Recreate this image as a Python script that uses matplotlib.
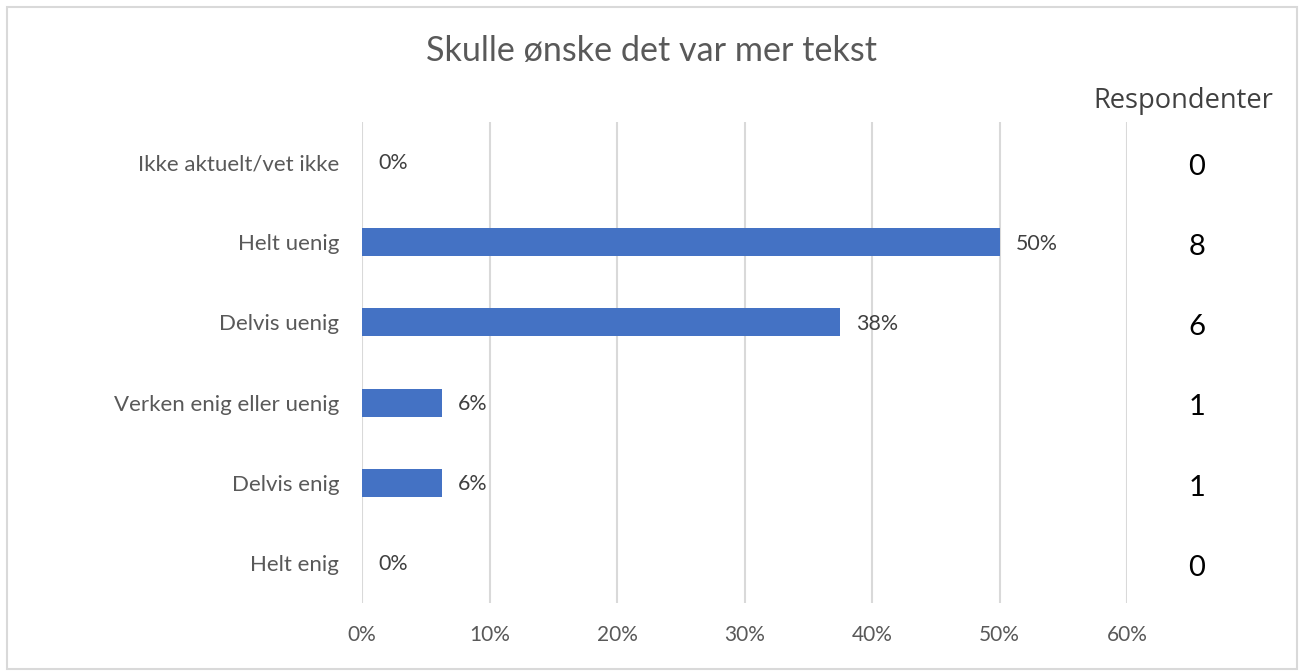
import matplotlib
matplotlib.use('Agg')
import matplotlib.pyplot as plt
from matplotlib.patches import Rectangle
import matplotlib.transforms as mtransforms

plt.rcParams['font.family'] = ['Lato', 'DejaVu Sans']

categories = ['Ikke aktuelt/vet ikke', 'Helt uenig', 'Delvis uenig',
              'Verken enig eller uenig', 'Delvis enig', 'Helt enig']
respondents = [0, 8, 6, 1, 1, 0]
total = sum(respondents)
shares = [r / total * 100 for r in respondents]
pct_labels = ['0%', '50%', '38%', '6%', '6%', '0%']
x_ticks = [0, 10, 20, 30, 40, 50, 60]

BAR = '#4472C4'
GRID = '#D9D9D9'
TXT = '#595959'

W, H = 1306, 671
fig = plt.figure(figsize=(W / 100, H / 100), dpi=100)
ax = fig.add_axes([362 / W, 1 - 603 / H, (1127 - 362) / W, (603 - 122) / H])

ypos = list(range(len(categories)))
ax.barh(ypos, shares, height=0.35, color=BAR, zorder=3)
ax.set_ylim(len(categories) - 0.5, -0.5)
ax.set_xlim(0, 60)
ax.set_yticks(ypos)
ax.set_yticklabels(categories, fontsize=16, color=TXT)
ax.set_xticks(x_ticks)
ax.set_xticklabels([f'{t}%' for t in x_ticks], fontsize=15, color=TXT)
ax.tick_params(length=0)
ax.tick_params(axis='y', pad=16.5)
ax.tick_params(axis='x', pad=16)
ax.grid(axis='x', color=GRID, linewidth=1.5, zorder=0)
for s in ax.spines.values():
    s.set_visible(False)

for y, v, lab in zip(ypos, shares, pct_labels):
    ax.annotate(lab, (v, y), xytext=(11.5, -1), textcoords='offset points',
                ha='left', va='center', fontsize=15.4, color='#404040')

# respondent counts in a column right of the plot area
trans = mtransforms.blended_transform_factory(ax.transAxes, ax.transData)
for y, r in zip(ypos, respondents):
    ax.annotate(str(r), (1.0915, y), xycoords=trans, xytext=(0, -3.5),
                textcoords='offset points', ha='center', va='center',
                fontsize=21, color='black')
ax.text(1.0732, 1.043, 'Respondenter', transform=ax.transAxes,
        ha='center', va='center', fontsize=19.6, color='#404040',
        family=['Open Sans', 'DejaVu Sans'])

fig.text(652 / W, 1 - 51 / H, 'Skulle ønske det var mer tekst',
         ha='center', va='center', fontsize=24.6, color=TXT)

fig.patches.append(Rectangle((7 / W, 1 - 669 / H), (1297 - 7) / W, (669 - 7) / H,
                             transform=fig.transFigure, fill=False,
                             edgecolor=GRID, linewidth=1.5))

fig.savefig('out.png', dpi=100)
